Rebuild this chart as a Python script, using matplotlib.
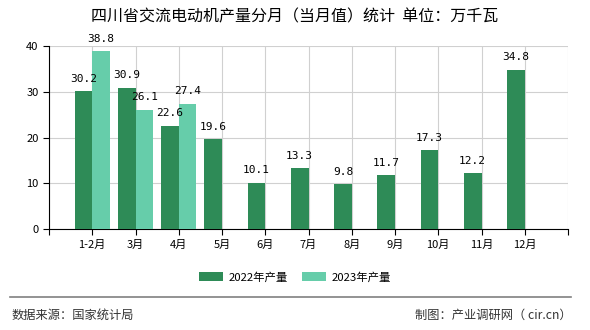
import matplotlib.pyplot as plt
import numpy as np

plt.rcParams["font.family"] = ["Noto Sans CJK SC", "DejaVu Sans"]

months = ["1-2月", "3月", "4月", "5月", "6月", "7月", "8月", "9月", "10月", "11月", "12月"]
prod_2022 = [30.2, 30.9, 22.6, 19.6, 10.1, 13.3, 9.8, 11.7, 17.3, 12.2, 34.8]
prod_2023 = [38.8, 26.1, 27.4]

C22 = "#2e8b57"
C23 = "#66cdaa"

fig = plt.figure(figsize=(5.9, 3.3), dpi=100)
ax = fig.add_axes([49 / 590, 1 - 229 / 330, 519 / 590, 183 / 330])

x = np.arange(len(months))
w = 0.41
ax.bar(x - w / 2, prod_2022, width=w, color=C22, label="2022年产量", zorder=3)
x23 = x[:len(prod_2023)]
ax.bar(x23 + w / 2, prod_2023, width=w, color=C23, label="2023年产量", zorder=3)

for xi, v in zip(x, prod_2022):
    ax.text(xi - w / 2, v + 1.6, f"{v}", ha="center", va="bottom", fontsize=8,
            family=["DejaVu Sans Mono"], zorder=4)
for xi, v in zip(x23, prod_2023):
    ax.text(xi + w / 2, v + 1.6, f"{v}", ha="center", va="bottom", fontsize=8,
            family=["DejaVu Sans Mono"], zorder=4)

ax.set_xlim(-1, len(months))
ax.set_ylim(0, 40)
ax.set_yticks([0, 10, 20, 30, 40])
ax.set_xticks(list(range(-1, len(months) + 1)))
ax.set_xticklabels([""] + months + [""])
ax.tick_params(axis="both", labelsize=8, length=4, color="black")
ax.grid(True, color="#d0d0d0", lw=0.8, zorder=0)
for s in ["top", "right"]:
    ax.spines[s].set_visible(False)
ax.spines["left"].set_color("black")
ax.spines["bottom"].set_color("black")

fig.text(0.5, 1 - 17 / 330, "四川省交流电动机产量分月（当月值）统计  单位：万千瓦",
         ha="center", va="center", fontsize=11.5)

fig.legend(loc="center", bbox_to_anchor=(0.5, 1 - 277 / 330), ncol=2, frameon=False,
           fontsize=8.2, handlelength=2.1, handleheight=0.8, handletextpad=0.5,
           columnspacing=1.3)

fig.add_artist(plt.Line2D([10 / 590, 571 / 590], [1 - 297 / 330] * 2,
                          color="#808080", lw=1.2, transform=fig.transFigure))
fig.text(12 / 590, 1 - 315 / 330, "数据来源：国家统计局", ha="left", va="center",
         fontsize=8.8, color="#333333")
fig.text(572 / 590, 1 - 315 / 330, "制图：产业调研网（ cir.cn）", ha="right", va="center",
         fontsize=8.8, color="#333333")

fig.savefig("out.png", dpi=100)
